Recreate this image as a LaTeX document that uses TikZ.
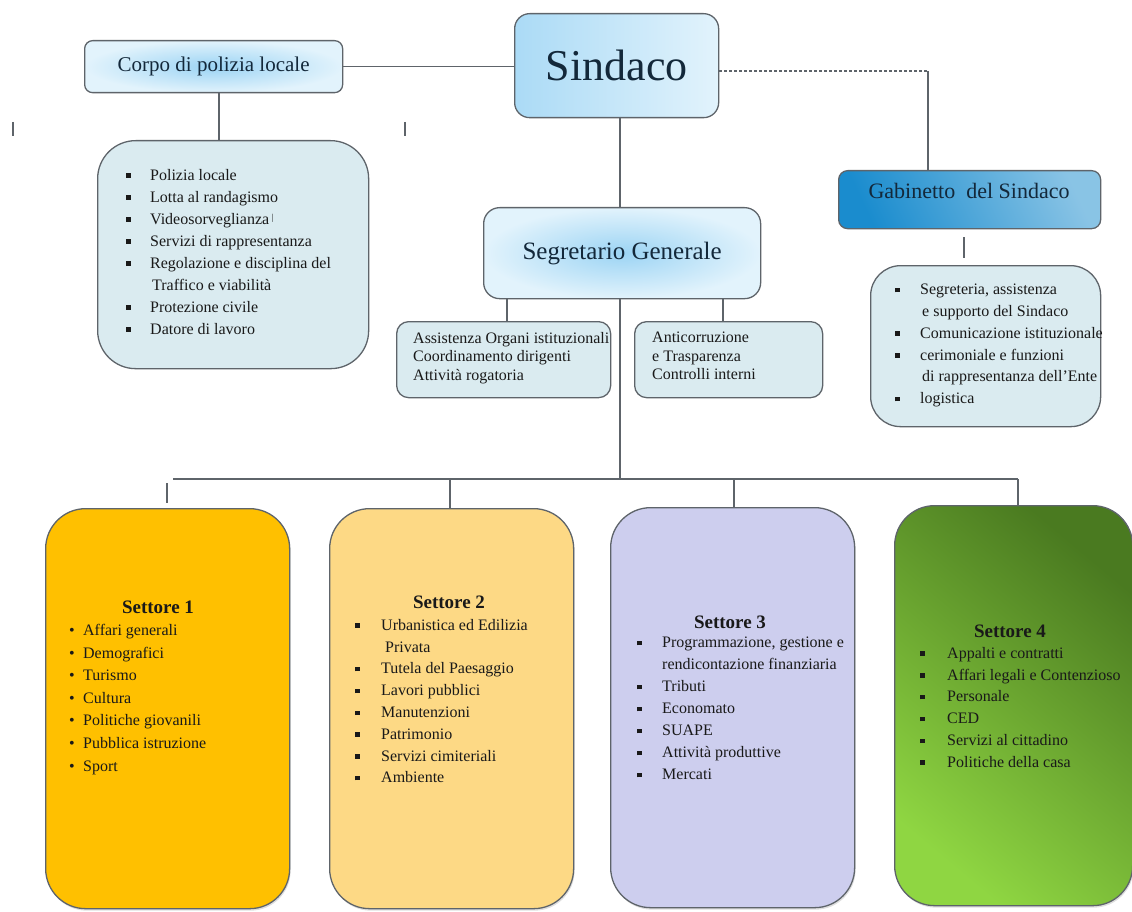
\documentclass[tikz,border=0pt]{standalone}
\usepackage{fontspec}
\setmainfont{Liberation Serif}
\usepackage{tikz}
\usetikzlibrary{shadows}

\definecolor{blueinner}{HTML}{9CD4F4}
\definecolor{blueouter}{HTML}{E2F3FC}
\definecolor{gabdark}{HTML}{1A8CCE}
\definecolor{gablight}{HTML}{E4F1F8}
\definecolor{listfill}{HTML}{DAEBF0}
\definecolor{settoreA}{HTML}{FFC000}
\definecolor{settoreB}{HTML}{FDD985}
\definecolor{settoreC}{HTML}{CDCEEE}
\definecolor{settoreDtop}{HTML}{4A7A20}
\definecolor{settoreDbot}{HTML}{8FD642}
\definecolor{inkgray}{HTML}{5E646A}
\definecolor{navytext}{HTML}{13283A}

\newcommand{\bul}[1]{\makebox[#1][l]{\textbullet}}
\newcommand{\sqb}[1]{\makebox[#1][l]{\hspace{1pt}\rule[2.5pt]{4.5pt}{4.5pt}}}

\begin{document}
\begin{tikzpicture}[x=1pt,y=-1pt]
    \tikzset{
        boxline/.style={draw=inkgray, line width=1.3pt},
        bluebox/.style={boxline, inner color=blueinner, outer color=blueouter, inner sep=0pt, anchor=north west, text=navytext},
        listbox/.style={boxline, fill=listfill, inner sep=0pt, anchor=north west},
        settore/.style={boxline, rounded corners=40pt, inner sep=0pt, anchor=north west,
            minimum width=244pt, minimum height=400pt,
            drop shadow={opacity=0.25, shadow xshift=1pt, shadow yshift=-2pt}},
        items/.style={anchor=north west, inner sep=0pt, align=left, text=black!90, font=\fontsize{16}{22}\selectfont},
        title/.style={inner sep=0pt, text=black!90, font=\fontsize{19}{22}\selectfont\bfseries},
        conn/.style={draw=inkgray, line width=1.6pt},
    }
    \useasboundingbox (0,0) rectangle (1132,912);

    % top level
    \node[bluebox, left color=blueinner!85, right color=blueouter, rounded corners=15pt,
          minimum width=204pt, minimum height=104pt, font=\fontsize{44}{48}\selectfont] (sindaco) at (514,13) {Sindaco};
    \node[bluebox, rounded corners=8pt, minimum width=258pt, minimum height=52pt,
          font=\fontsize{21}{24}\selectfont] (corpo) at (84,40) {Corpo di polizia locale};
    \node[listbox, rounded corners=38pt, minimum width=271pt, minimum height=228pt] (polizia) at (97,140) {};
    \node[items] (polizialist) at (125,169) {%
        \sqb{25pt}Polizia locale\\
        \sqb{25pt}Lotta al randagismo\\
        \sqb{25pt}Videosorveglianza\,\raisebox{4pt}{\fontsize{9}{9}\selectfont|}\\
        \sqb{25pt}Servizi di rappresentanza\\
        \sqb{25pt}Regolazione e disciplina del\\
        \hspace*{27pt}Traffico e viabilità\\
        \sqb{25pt}Protezione civile\\
        \sqb{25pt}Datore di lavoro};

    % stray ticks
    \draw[conn, line width=1.2pt] (13,122) -- (13,136);
    \draw[conn, line width=1.2pt] (405,122) -- (405,136);

    \draw[conn] (corpo.east) -- (sindaco.west |- corpo.east);
    \draw[conn] (corpo.south -| 219,0) -- (polizia.north -| 219,0);

    % gabinetto
    \node[boxline, inner sep=0pt, anchor=north west, rounded corners=9pt, minimum width=262pt, minimum height=58pt,
          shading=axis, top color=gabdark!45!gablight, bottom color=gabdark, shading angle=-65] (gabbase) at (838,170) {};
    \node[inner sep=0pt, text=navytext, font=\fontsize{22}{24}\selectfont] (gabinetto) at (969,191) {Gabinetto\ \ del Sindaco};
    \coordinate (dashend) at (928,71);
    \draw[conn, densely dashed, line width=1.4pt] (sindaco.east |- dashend) -- (dashend);
    \draw[conn] (dashend) -- (dashend |- gabbase.north);
    \node[listbox, rounded corners=30pt, minimum width=230pt, minimum height=161pt] (gablistbox) at (870,265) {};
    \draw[conn] (964,237) -- (964,258);
    \node[items, font=\fontsize{16}{21.8}\selectfont] (gablist) at (894,284) {%
        \sqb{26pt}Segreteria, assistenza\\
        \hspace*{28pt}e supporto del Sindaco\\
        \sqb{26pt}Comunicazione istituzionale\\
        \sqb{26pt}cerimoniale e funzioni\\
        \hspace*{28pt}di rappresentanza dell'Ente\\
        \sqb{26pt}logistica};

    % segretario
    \node[bluebox, rounded corners=16pt, minimum width=277pt, minimum height=91pt,
          font=\fontsize{25}{28}\selectfont] (segretario) at (483,207) {Segretario Generale};
    \draw[conn] (620,117) -- (620,207);
    \node[listbox, rounded corners=12pt, minimum width=214pt, minimum height=76pt] (assistenza) at (396,321) {};
    \node[listbox, rounded corners=12pt, minimum width=188pt, minimum height=76pt] (anticorr) at (634,321) {};
    \node[items, font=\fontsize{16}{18.5}\selectfont] (assistenzatxt) at (413,332) {%
        Assistenza Organi istituzionali\\Coordinamento dirigenti\\Attività rogatoria};
    \node[items, font=\fontsize{16}{18.5}\selectfont] (anticorrtxt) at (652,332) {%
        Anticorruzione\\e Trasparenza\\Controlli interni};
    \draw[conn] (507,298) -- (507,321);
    \draw[conn] (723,298) -- (723,321);

    % settori
    \coordinate (busleft) at (173,479);
    \coordinate (busright) at (1018,479);
    \draw[conn] (620,298) -- (620,479);
    \draw[conn] (busleft) -- (busright);
    \node[settore, fill=settoreA] (settore1) at (45,508) {};
    \node[settore, fill=settoreB] (settore2) at (329,508) {};
    \node[settore, fill=settoreC] (settore3) at (610,507) {};
    \node[settore, shading=axis, top color=settoreDtop, bottom color=settoreDbot, shading angle=-40,
          minimum width=238pt] (settore4) at (894,505) {};
    \draw[conn] (167,483) -- (167,503);
    \draw[conn] (450,0 |- busleft) -- (450,0 |- settore2.north);
    \draw[conn] (734,0 |- busleft) -- (734,0 |- settore3.north);
    \draw[conn] (busright) -- (busright |- settore4.north);

    \node[title] (titolo1) at (158,607) {Settore 1};
    \node[items, font=\fontsize{16}{22.6}\selectfont] (lista1) at (69,624) {%
        \bul{14pt}Affari generali\\
        \bul{14pt}Demografici\\
        \bul{14pt}Turismo\\
        \bul{14pt}Cultura\\
        \bul{14pt}Politiche giovanili\\
        \bul{14pt}Pubblica istruzione\\
        \bul{14pt}Sport};

    \node[title] (titolo2) at (449,602) {Settore 2};
    \node[items, font=\fontsize{16}{21.8}\selectfont] (lista2) at (354,619) {%
        \sqb{27pt}Urbanistica ed Edilizia\\
        \hspace*{31pt}Privata\\
        \sqb{27pt}Tutela del Paesaggio\\
        \sqb{27pt}Lavori pubblici\\
        \sqb{27pt}Manutenzioni\\
        \sqb{27pt}Patrimonio\\
        \sqb{27pt}Servizi cimiteriali\\
        \sqb{27pt}Ambiente};

    \node[title] (titolo3) at (730,622) {Settore 3};
    \node[items, font=\fontsize{16}{22}\selectfont] (lista3) at (636,637) {%
        \sqb{26pt}Programmazione, gestione e\\
        \hspace*{26pt}rendicontazione finanziaria\\
        \sqb{26pt}Tributi\\
        \sqb{26pt}Economato\\
        \sqb{26pt}SUAPE\\
        \sqb{26pt}Attività produttive\\
        \sqb{26pt}Mercati};

    \node[title] (titolo4) at (1010,631) {Settore 4};
    \node[items, font=\fontsize{16}{21.8}\selectfont] (lista4) at (919,647) {%
        \sqb{28pt}Appalti e contratti\\
        \sqb{28pt}Affari legali e Contenzioso\\
        \sqb{28pt}Personale\\
        \sqb{28pt}CED\\
        \sqb{28pt}Servizi al cittadino\\
        \sqb{28pt}Politiche della casa};
\end{tikzpicture}
\end{document}
